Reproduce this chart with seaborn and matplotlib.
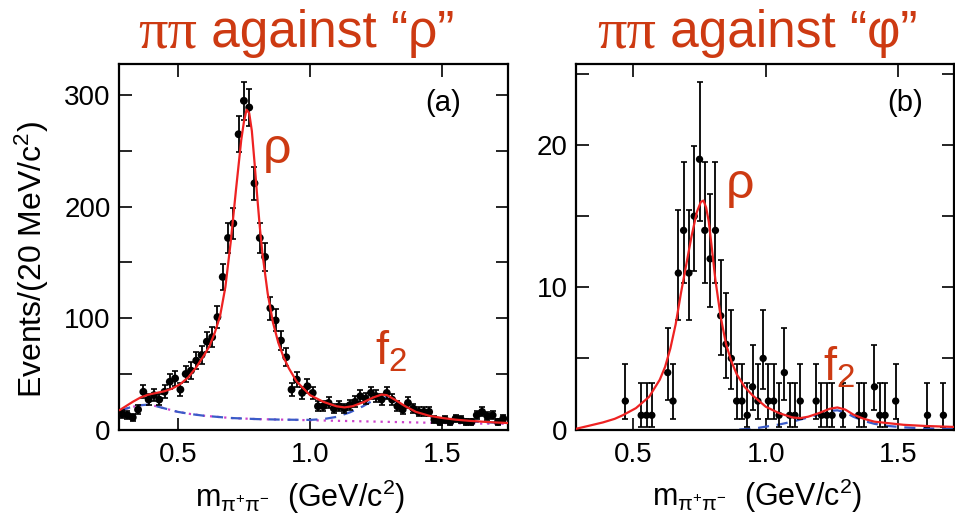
import numpy as np
import matplotlib
matplotlib.use("Agg")
import matplotlib.pyplot as plt
from matplotlib.ticker import FixedLocator, NullFormatter
import seaborn as sns

# ---------------- data: panel (a) ----------------
mass_a = [0.29, 0.31, 0.33, 0.35, 0.37, 0.39, 0.41, 0.43, 0.45, 0.47,
          0.49, 0.51, 0.53, 0.55, 0.57, 0.59, 0.61, 0.63, 0.65, 0.67,
          0.69, 0.71, 0.73, 0.75, 0.77, 0.79, 0.81, 0.83, 0.85, 0.87,
          0.89, 0.91, 0.93, 0.95, 0.97, 0.99, 1.01, 1.03, 1.05, 1.07,
          1.09, 1.11, 1.13, 1.15, 1.17, 1.19, 1.21, 1.23, 1.25, 1.27,
          1.29, 1.31, 1.33, 1.35, 1.37, 1.39, 1.41, 1.43, 1.45, 1.47,
          1.49, 1.51, 1.53, 1.55, 1.57, 1.59, 1.61, 1.63, 1.65, 1.67,
          1.69, 1.71, 1.73]
counts_a = [14, 13, 11, 18, 34, 27, 31, 27, 34, 43,
            46, 36, 50, 53, 62, 67, 79, 83, 101, 137,
            172, 185, 265, 295, 289, 221, 172, 155, 109, 98,
            80, 65, 36, 45, 33, 39, 33, 21, 21, 24,
            19, 21, 19, 22, 25, 30, 28, 33, 30, 27,
            33, 27, 21, 18, 24, 19, 16, 16, 16, 9,
            7, 9, 7, 10, 9, 7, 7, 13, 16, 12,
            13, 7, 10]
err_a = [3.7, 3.6, 3.3, 4.2, 5.8, 5.2, 5.6, 5.2, 5.8, 6.6,
         6.8, 6.0, 7.1, 7.3, 7.9, 8.2, 8.9, 9.1, 10.0, 11.7,
         13.1, 13.6, 16.3, 17.2, 17.0, 14.9, 13.1, 12.4, 10.4, 9.9,
         8.9, 8.1, 6.0, 6.7, 5.7, 6.2, 5.7, 4.6, 4.6, 4.9,
         4.4, 4.6, 4.4, 4.7, 5.0, 5.5, 5.3, 5.7, 5.5, 5.2,
         5.7, 5.2, 4.6, 4.2, 4.9, 4.4, 4.0, 4.0, 4.0, 3.0,
         2.6, 3.0, 2.6, 3.2, 3.0, 2.6, 2.6, 3.6, 4.0, 3.5,
         3.6, 2.6, 3.2]

fit_a_m = [0.28, 0.30, 0.33, 0.36, 0.39, 0.42, 0.45, 0.48, 0.51, 0.54,
           0.57, 0.60, 0.62, 0.64, 0.66, 0.68, 0.70, 0.72, 0.74, 0.75,
           0.76, 0.77, 0.78, 0.79, 0.80, 0.81, 0.82, 0.84, 0.86, 0.88,
           0.90, 0.92, 0.95, 1.00, 1.05, 1.10, 1.13, 1.16, 1.20, 1.24,
           1.27, 1.29, 1.32, 1.36, 1.40, 1.45, 1.50, 1.55, 1.60, 1.65,
           1.70, 1.75]
fit_a_v = [17.5, 20.5, 25, 29, 31.5, 33, 34.5, 37, 41, 47,
           56, 67, 75, 87, 102, 128, 168, 215, 260, 276,
           287, 284, 268, 240, 210, 182, 158, 122, 96, 78,
           65, 55, 43, 31, 25, 21, 20, 21, 24.5, 29,
           31.5, 31, 27, 21, 16, 12.5, 10.5, 9, 8, 7.2,
           6.5, 6]

f2_a_m = [0.28, 0.32, 0.36, 0.39, 0.42, 0.46, 0.50, 0.55, 0.60, 0.70,
          0.80, 0.90, 1.00, 1.05, 1.10, 1.15, 1.20, 1.24, 1.27, 1.29,
          1.32, 1.36, 1.40, 1.45, 1.50, 1.55, 1.60, 1.65, 1.70, 1.75]
f2_a_v = [17, 20, 22, 22.5, 21, 18.5, 16, 14, 12.5, 10.5,
          9.5, 9, 8.8, 9.5, 11.5, 15.5, 21, 26.5, 28.5, 28.5,
          25.5, 20, 15.5, 12, 10, 8.5, 7.5, 6.8, 6.3, 6]

bkg_a_m = [0.28, 0.32, 0.36, 0.39, 0.42, 0.46, 0.50, 0.55, 0.60, 0.70,
           0.80, 0.90, 1.00, 1.10, 1.20, 1.30, 1.40, 1.50, 1.60, 1.75]
bkg_a_v = [17, 20, 22, 22.5, 21, 18.5, 16, 14, 12.5, 10.5,
           9.5, 9, 8.5, 8, 7.5, 7, 6.5, 6, 5.6, 5.2]

# ---------------- data: panel (b) ----------------
mass_b = [0.47, 0.53, 0.55, 0.57, 0.63, 0.65, 0.67, 0.69, 0.71, 0.73,
          0.75, 0.77, 0.79, 0.81, 0.83, 0.85, 0.87, 0.89, 0.91, 0.93,
          0.95, 0.97, 0.99, 1.01, 1.03, 1.05, 1.07, 1.09, 1.11, 1.13,
          1.19, 1.21, 1.23, 1.25, 1.29, 1.35, 1.37, 1.41, 1.43, 1.45,
          1.49, 1.61, 1.67]
counts_b = [2, 1, 1, 1, 4, 2, 11, 14, 11, 15,
            19, 14, 12, 14, 8, 6, 5, 2, 2, 1,
            3, 2, 5, 2, 2, 1, 4, 1, 1, 2,
            2, 1, 1, 1, 1, 1, 1, 3, 1, 1,
            2, 1, 1]
err_lo_b = [1.29, 0.83, 0.83, 0.83, 1.91, 1.29, 3.27, 3.70, 3.27, 3.83,
            4.33, 3.70, 3.41, 3.70, 2.77, 2.38, 2.16, 1.29, 1.29, 0.83,
            1.63, 1.29, 2.16, 1.29, 1.29, 0.83, 1.91, 0.83, 0.83, 1.29,
            1.29, 0.83, 0.83, 0.83, 0.83, 0.83, 0.83, 1.63, 0.83, 0.83,
            1.29, 0.83, 0.83]
err_hi_b = [2.64, 2.30, 2.30, 2.30, 3.16, 2.64, 4.44, 4.83, 4.44, 4.96,
            5.43, 4.83, 4.57, 4.83, 3.94, 3.58, 3.38, 2.64, 2.64, 2.30,
            2.92, 2.64, 3.38, 2.64, 2.64, 2.30, 3.16, 2.30, 2.30, 2.64,
            2.64, 2.30, 2.30, 2.30, 2.30, 2.30, 2.30, 2.92, 2.30, 2.30,
            2.64, 2.30, 2.30]

fit_b_m = [0.284, 0.33, 0.386, 0.43, 0.46, 0.51, 0.56, 0.60, 0.62, 0.64,
           0.66, 0.68, 0.70, 0.72, 0.74, 0.755, 0.765, 0.775, 0.785, 0.795,
           0.81, 0.83, 0.85, 0.87, 0.89, 0.92, 0.95, 1.00, 1.05, 1.10,
           1.13, 1.16, 1.20, 1.24, 1.27, 1.30, 1.33, 1.37, 1.41, 1.46,
           1.52, 1.60, 1.71]
fit_b_v = [0.05, 0.25, 0.5, 0.75, 1.0, 1.5, 2.3, 3.5, 4.4, 5.7,
           7.4, 9.6, 11.6, 13.6, 15.3, 16.0, 16.1, 15.6, 14.6, 13.0,
           10.5, 7.9, 6.0, 4.8, 3.9, 3.0, 2.4, 1.6, 1.15, 0.85,
           0.8, 0.9, 1.15, 1.45, 1.55, 1.4, 1.05, 0.75, 0.55, 0.45,
           0.33, 0.25, 0.18]

f2_b_m = [0.90, 0.95, 1.00, 1.05, 1.10, 1.15, 1.20, 1.24, 1.27, 1.30,
          1.33, 1.37, 1.41, 1.46, 1.52, 1.60, 1.71]
f2_b_v = [0.0, 0.05, 0.2, 0.35, 0.55, 0.8, 1.05, 1.3, 1.35, 1.2,
          0.9, 0.6, 0.4, 0.25, 0.15, 0.08, 0.04]

xticks = [0.5, 1.0, 1.5]
xticklabels = ["0.5", "1.0", "1.5"]
yticks_a = [0, 100, 200, 300]
yticks_a_minor = [50, 150, 250]
yticks_b = [0, 10, 20]
yticks_b_minor = [5, 15, 25]

# ---------------- style ----------------
sns.set_theme(style="ticks")
plt.rcParams["font.family"] = ["Liberation Sans", "DejaVu Sans"]
plt.rcParams["mathtext.fontset"] = "custom"
plt.rcParams["mathtext.rm"] = "Liberation Sans"
plt.rcParams["mathtext.it"] = "Liberation Sans:italic"
plt.rcParams["mathtext.bf"] = "Liberation Sans:bold"

TITLE_C = "#CD3A12"
RED = "#EE2222"
BLUE = "#3B5BC8"
MAG = "#CC44CC"

fig = plt.figure(figsize=(9.55, 5.17), dpi=100)
ax1 = fig.add_axes([119 / 955, (517 - 429.7) / 517, 389 / 955, 365.7 / 517])
ax2 = fig.add_axes([576 / 955, (517 - 429.5) / 517, 378 / 955, 365.5 / 517])

# panel (a)
sns.lineplot(x=bkg_a_m, y=bkg_a_v, ax=ax1, color=MAG, linestyle=(0, (1, 2.2)),
             linewidth=1.6, sort=False, zorder=2)
sns.lineplot(x=f2_a_m, y=f2_a_v, ax=ax1, color=BLUE, linestyle=(0, (5, 3.5)),
             linewidth=1.6, sort=False, zorder=2.1)
ax1.errorbar(mass_a, counts_a, yerr=err_a, fmt="none", ecolor="black",
             elinewidth=1.3, capsize=2.2, capthick=1.2, zorder=3)
sns.scatterplot(x=mass_a, y=counts_a, ax=ax1, color="black", s=32,
                edgecolor="none", zorder=3.1)
sns.lineplot(x=fit_a_m, y=fit_a_v, ax=ax1, color=RED, linewidth=1.6,
             sort=False, zorder=4)

# panel (b)
sns.lineplot(x=f2_b_m, y=f2_b_v, ax=ax2, color=BLUE, linestyle=(0, (5, 3.5)),
             linewidth=1.6, sort=False, zorder=2)
ax2.errorbar(mass_b, counts_b, yerr=[err_lo_b, err_hi_b], fmt="none",
             ecolor="black", elinewidth=1.3, capsize=2.2, capthick=1.2, zorder=3)
sns.scatterplot(x=mass_b, y=counts_b, ax=ax2, color="black", s=28,
                edgecolor="none", zorder=3.1)
sns.lineplot(x=fit_b_m, y=fit_b_v, ax=ax2, color=RED, linewidth=1.6,
             sort=False, zorder=4)

ax1.set_xlim(0.278, 1.748)
ax1.set_ylim(0, 328)
ax2.set_xlim(0.284, 1.71)
ax2.set_ylim(0, 25.7)

xlab = r"$\mathregular{m_{\pi^{+}\pi^{-}}}$  (GeV/c$\mathregular{^{2}}$)"
for ax, yt, ytm, lx in ((ax1, yticks_a, yticks_a_minor, 0.465),
                        (ax2, yticks_b, yticks_b_minor, 0.478)):
    ax.set_xticks(xticks)
    ax.set_xticklabels(xticklabels)
    ax.set_yticks(yt)
    ax.set_yticklabels([str(v) for v in yt])
    ax.yaxis.set_minor_locator(FixedLocator(ytm))
    ax.yaxis.set_minor_formatter(NullFormatter())
    ax.tick_params(axis="both", which="both", direction="in", top=True,
                   right=True, length=9, width=1.2, colors="black",
                   labelsize=20)
    ax.tick_params(axis="x", which="major", pad=9)
    ax.tick_params(axis="y", which="major", pad=6)
    for s in ax.spines.values():
        s.set_linewidth(1.6)
        s.set_color("black")
    ax.set_xlabel(xlab, fontsize=22, color="black")
    ax.xaxis.set_label_coords(lx, -0.13)
    ax.set_ylabel("")

ax1.set_ylabel(r"Events/(20 MeV/c$\mathregular{^{2}}$)", fontsize=23,
               color="black")
ax1.yaxis.set_label_coords(-0.175, 0.464)

ax1.text(0.833, 0.893, "(a)", transform=ax1.transAxes, fontsize=21,
         ha="center", va="center", color="black")
ax2.text(0.870, 0.893, "(b)", transform=ax2.transAxes, fontsize=21,
         ha="center", va="center", color="black")

ax1.text(0.406, 0.765, "ρ", transform=ax1.transAxes, fontsize=36,
         ha="center", va="center", color=TITLE_C)
ax1.text(0.658, 0.177, r"f$\mathregular{_{2}}$", transform=ax1.transAxes,
         fontsize=34, ha="left", va="baseline", color=TITLE_C)
ax2.text(0.434, 0.669, "ρ", transform=ax2.transAxes, fontsize=36,
         ha="center", va="center", color=TITLE_C)
ax2.text(0.653, 0.135, r"f$\mathregular{_{2}}$", transform=ax2.transAxes,
         fontsize=34, ha="left", va="baseline", color=TITLE_C)

# titles: upright serif pi pair + sans text
ty = (517 - 47) / 517
for split_x, tail in ((197, " against “ρ”"), (656, " against “φ”")):
    fig.text(split_x / 955, ty, "ππ", fontsize=42, ha="right", va="baseline",
             color=TITLE_C, family=["Liberation Serif", "DejaVu Serif"])
    fig.text(split_x / 955, ty, tail, fontsize=37, ha="left", va="baseline",
             color=TITLE_C)

fig.savefig("out.png", dpi=100)
